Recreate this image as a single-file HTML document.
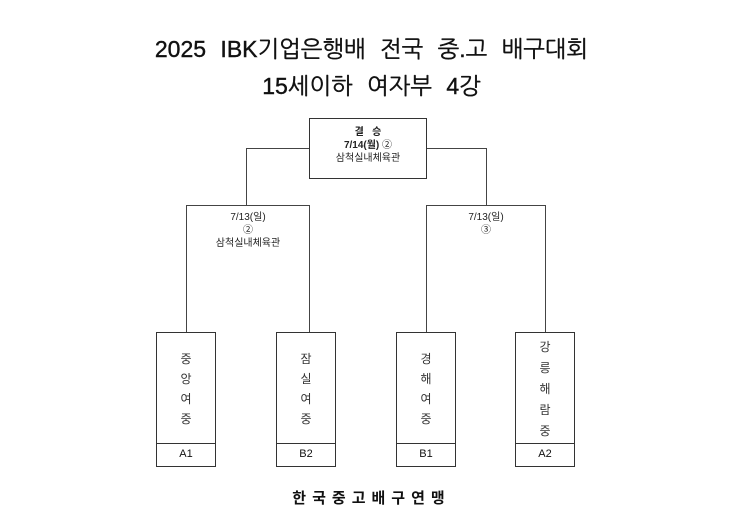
<!DOCTYPE html>
<html><head><meta charset="utf-8"><style>
body{margin:0;width:743px;height:532px;background:#fff;position:relative;font-family:"Liberation Sans","Noto Sans CJK KR",sans-serif;color:#111;overflow:hidden}
.a{position:absolute}
.t{left:0;width:743px;text-align:center;font-weight:normal;font-size:23px;word-spacing:8px;-webkit-text-stroke:0.4px #111;font-family:"Liberation Sans","NanumGothic","Noto Sans CJK KR",sans-serif}
.b{position:absolute;border:1px solid #333;box-sizing:border-box}
.l{position:absolute;background:#444}
.s{font-size:10px;text-align:center;line-height:13px;color:#222}
.tm{position:absolute;border:1px solid #333;box-sizing:border-box;width:60px;height:135px;top:332px}
.tm .n{position:absolute;top:0;left:0;right:0;height:112px;display:flex;flex-direction:column;justify-content:center;align-items:center;font-size:12px;line-height:20px;color:#333}
.tm .c{position:absolute;bottom:0;left:0;right:0;height:22px;border-top:1px solid #333;font-size:11px;text-align:center;line-height:21px}
</style></head><body>
<div class="a t" style="top:35px">2025 IBK기업은행배 전국 중.고 배구대회</div>
<div class="a t" style="top:72px">15세이하 여자부 4강</div>

<div class="b" style="left:309px;top:118px;width:118px;height:61px"></div>
<div class="a s" style="left:309px;top:126px;width:118px"><b>결&nbsp;&nbsp;&nbsp;승</b><br><b>7/14(월)</b> ②<br>삼척실내체육관</div>

<div class="l" style="left:246px;top:148px;width:63px;height:1px"></div>
<div class="l" style="left:246px;top:148px;width:1px;height:57px"></div>
<div class="l" style="left:427px;top:148px;width:59px;height:1px"></div>
<div class="l" style="left:486px;top:148px;width:1px;height:57px"></div>

<div class="l" style="left:186px;top:205px;width:124px;height:1px"></div>
<div class="l" style="left:186px;top:205px;width:1px;height:127px"></div>
<div class="l" style="left:309px;top:205px;width:1px;height:127px"></div>
<div class="a s" style="left:186px;top:211px;width:124px">7/13(일)<br>②<br>삼척실내체육관</div>

<div class="l" style="left:426px;top:205px;width:120px;height:1px"></div>
<div class="l" style="left:426px;top:205px;width:1px;height:127px"></div>
<div class="l" style="left:545px;top:205px;width:1px;height:127px"></div>
<div class="a s" style="left:426px;top:211px;width:120px">7/13(일)<br>③</div>

<div class="tm" style="left:156px"><div class="n">중<br>앙<br>여<br>중</div><div class="c">A1</div></div>
<div class="tm" style="left:276px"><div class="n">잠<br>실<br>여<br>중</div><div class="c">B2</div></div>
<div class="tm" style="left:396px"><div class="n">경<br>해<br>여<br>중</div><div class="c">B1</div></div>
<div class="tm" style="left:515px"><div class="n" style="line-height:21px">강<br>릉<br>해<br>람<br>중</div><div class="c">A2</div></div>

<div class="a" style="left:0;width:743px;top:487px;text-align:center;font-size:15px;font-weight:bold;letter-spacing:6px">한국중고배구연맹</div>
</body></html>
